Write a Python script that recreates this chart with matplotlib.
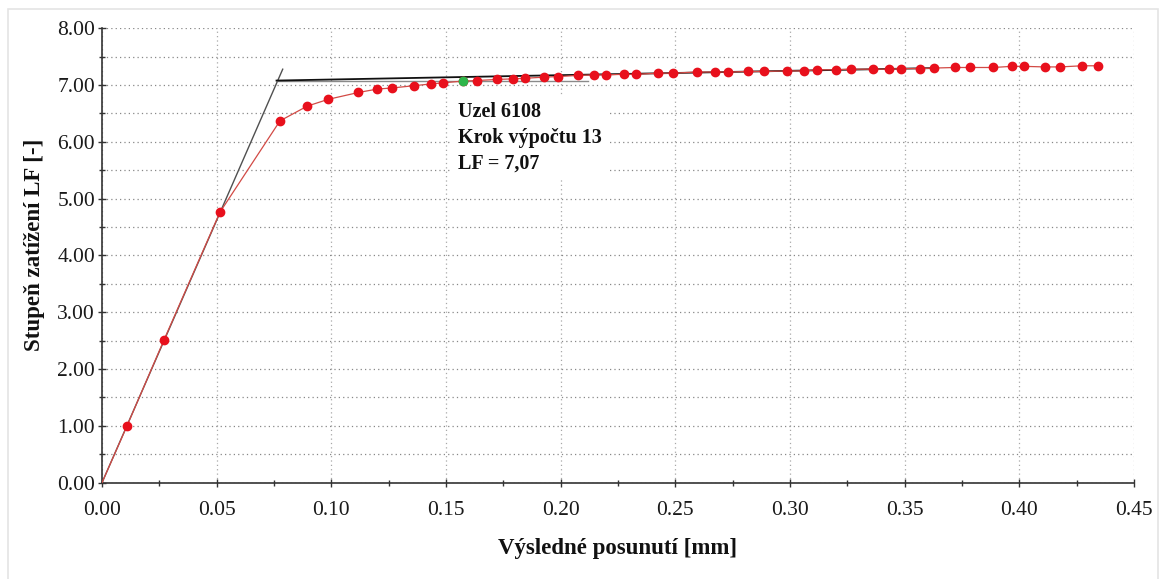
import matplotlib
matplotlib.use("Agg")
import matplotlib.pyplot as plt
from matplotlib.ticker import MultipleLocator, FormatStrFormatter
from matplotlib.patches import Rectangle

# ---- data ----
disp = [0.0, 0.0109, 0.0270, 0.0514, 0.0776, 0.0895, 0.0987, 0.1118, 0.1200,
        0.1266, 0.1362, 0.1433, 0.1488, 0.1572, 0.1633, 0.1723, 0.1793, 0.1844,
        0.1927, 0.1987, 0.2074, 0.2144, 0.2196, 0.2274, 0.2329, 0.2425, 0.2489,
        0.2594, 0.2671, 0.2730, 0.2817, 0.2887, 0.2988, 0.3062, 0.3117, 0.3200,
        0.3265, 0.3362, 0.3430, 0.3485, 0.3566, 0.3627, 0.3719, 0.3787, 0.3887,
        0.3966, 0.4022, 0.4110, 0.4176, 0.4274, 0.4345]
lf = [0.00, 1.00, 2.51, 4.76, 6.37, 6.63, 6.75, 6.87, 6.93,
      6.95, 6.99, 7.02, 7.04, 7.07, 7.08, 7.10, 7.11, 7.12,
      7.14, 7.15, 7.17, 7.18, 7.18, 7.19, 7.19, 7.21, 7.21,
      7.23, 7.23, 7.23, 7.24, 7.24, 7.25, 7.25, 7.27, 7.27,
      7.28, 7.28, 7.28, 7.29, 7.29, 7.30, 7.31, 7.31, 7.31,
      7.33, 7.33, 7.32, 7.32, 7.34, 7.34]
highlight_idx = 13  # Uzel 6108, krok 13

# bilinear approximation lines
elastic_x = [0.0, 0.0788]
elastic_y = [0.0, 7.28]
plastic_x = [0.0761, 0.363]
plastic_y = [7.08, 7.30]
plateau_x = [0.0761, 0.212]
plateau_y = [7.08, 7.08]

annot_text = "Uzel 6108\nKrok výpočtu 13\nLF = 7,07"
xlabel = "Výsledné posunutí [mm]"
ylabel = "Stupeň zatížení LF [-]"

# ---- figure ----
W, H = 1166, 579
fig = plt.figure(figsize=(W / 100, H / 100), dpi=100)
fig.patch.set_facecolor("white")
fig.patches.append(Rectangle((8 / W, -0.01), (1158 - 8) / W, 1 - 9 / H + 0.01,
                             transform=fig.transFigure, fill=False,
                             edgecolor="#e4e4e4", linewidth=1.2, zorder=0))

ax = fig.add_axes([102 / W, 1 - 482.7 / H, (1134 - 102) / W, (482.7 - 28.3) / H])
serif = ["Liberation Serif", "DejaVu Serif"]

ax.set_xlim(0, 0.45)
ax.set_ylim(0, 8)
ax.xaxis.set_major_locator(MultipleLocator(0.05))
ax.xaxis.set_minor_locator(MultipleLocator(0.025))
ax.yaxis.set_major_locator(MultipleLocator(1.0))
ax.yaxis.set_minor_locator(MultipleLocator(0.5))
ax.xaxis.set_major_formatter(FormatStrFormatter("%.2f"))
ax.yaxis.set_major_formatter(FormatStrFormatter("%.2f"))

ax.grid(which="major", axis="x", linestyle=(0, (1, 2.5)), color="#a8a8a8", linewidth=0.9)
ax.grid(which="both", axis="y", linestyle=(0, (1, 2.5)), color="#888888", linewidth=0.9)
ax.set_axisbelow(True)

for s in ("top", "right"):
    ax.spines[s].set_visible(False)
for s in ("left", "bottom"):
    ax.spines[s].set_color("#333333")
    ax.spines[s].set_linewidth(1.2)

ax.tick_params(which="major", direction="inout", length=6, width=1, color="#333333",
               labelsize=15.5, labelcolor="#1a1a1a")
ax.tick_params(which="minor", direction="inout", length=5, width=1, color="#333333")
ax.tick_params(axis="x", pad=10)
ax.tick_params(axis="y", pad=2)
for lab in ax.get_xticklabels() + ax.get_yticklabels():
    lab.set_family(serif)

# bilinear lines
ax.plot(elastic_x, elastic_y, color="#505050", linewidth=1.0, zorder=3)
ax.plot(plateau_x, plateau_y, color="#8a8a8a", linewidth=1.0, zorder=3)
ax.plot(plastic_x, plastic_y, color="#111111", linewidth=1.3, zorder=3)

# response curve
ax.plot(disp, lf, color="#d24a45", linewidth=0.9, zorder=4)
ax.plot(disp[1:], lf[1:], linestyle="none", marker="o", markersize=6,
        markerfacecolor="#e8101c", markeredgecolor="#e8101c", zorder=5)
ax.plot([disp[highlight_idx]], [lf[highlight_idx]], linestyle="none", marker="o",
        markersize=6, markerfacecolor="#2fb54a", markeredgecolor="#2fb54a", zorder=6)

ax.text(0.1552, 6.70, annot_text, family=serif, fontweight="bold", fontsize=14.5,
        color="#111111", va="top", ha="left", linespacing=1.38, zorder=7,
        bbox=dict(facecolor="white", edgecolor="none", pad=4))

ax.set_xlabel(xlabel, family=serif, fontweight="bold", fontsize=16.5, color="#111111")
ax.set_ylabel(ylabel, family=serif, fontweight="bold", fontsize=16.5, color="#111111")
ax.xaxis.set_label_coords(0.5, -0.144)
ax.yaxis.set_label_coords(-0.065, 0.523)
ax.xaxis.label.set_va("center")
ax.yaxis.label.set_va("center")

fig.savefig("out.png", dpi=100)
